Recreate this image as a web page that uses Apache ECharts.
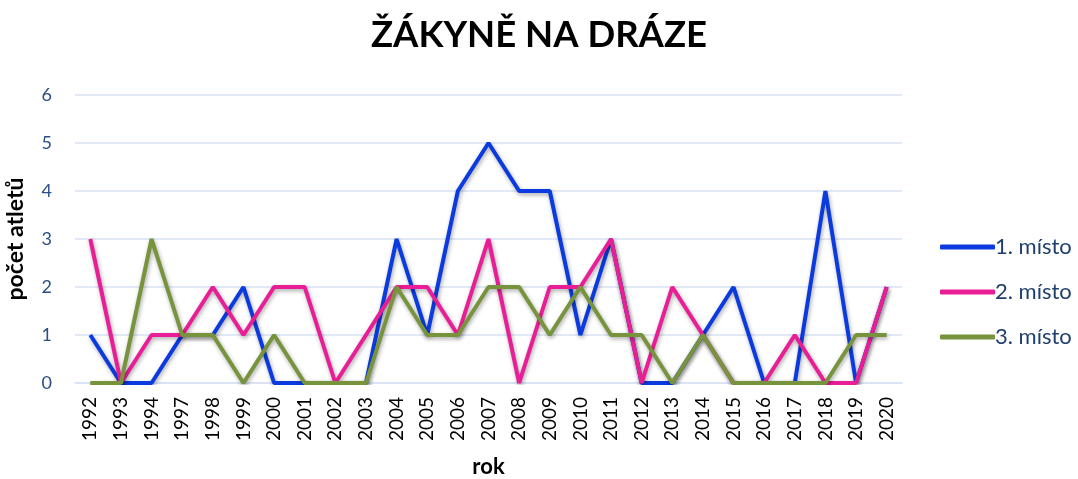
<!DOCTYPE html>
<html>
<head>
<meta charset="utf-8">
<script src="https://cdn.jsdelivr.net/npm/echarts@6/dist/echarts.min.js"></script>
<style>
html, body { margin: 0; padding: 0; background: #fff; }
#chart { width: 1078px; height: 479px; }
</style>
</head>
<body>
<div id="chart"></div>
<script>
const years = ['1992', '1993', '1994', '1997', '1998', '1999', '2000', '2001', '2002', '2003', '2004', '2005', '2006', '2007',
	'2008', '2009', '2010', '2011', '2012', '2013', '2014', '2015', '2016', '2017', '2018', '2019', '2020'];
const first = [1, 0, 0, 1, 1, 2, 0, 0, 0, 0, 3, 1, 4, 5, 4, 4, 1, 3, 0, 0, 1, 2, 0, 0, 4, 0, 2];
const second = [3, 0, 1, 1, 2, 1, 2, 2, 0, 1, 2, 2, 1, 3, 0, 2, 2, 3, 0, 2, 1, 0, 0, 1, 0, 0, 2];
const third = [0, 0, 3, 1, 1, 0, 1, 0, 0, 0, 2, 1, 1, 2, 2, 1, 2, 1, 1, 0, 1, 0, 0, 0, 0, 1, 1];
const seriesNames = ['1. místo', '2. místo', '3. místo'];
const colors = ['#0B3BE0', '#E91E96', '#77933C'];

const chart = echarts.init(document.getElementById('chart'), null, { renderer: 'canvas' });

// čára s jemným stínem jako v Excelu
const lineSeries = (name, data, color) => ({
	name,
	type: 'line',
	data,
	symbol: 'none',
	lineStyle: {
		color,
		width: 4,
		shadowColor: 'rgba(0,0,0,0.35)',
		shadowBlur: 4,
		shadowOffsetX: 1,
		shadowOffsetY: 2,
	},
	itemStyle: { color },
});

chart.setOption({
	backgroundColor: '#FFFFFF',
	textStyle: { fontFamily: 'Lato' },
	title: {
		text: 'ŽÁKYNĚ NA DRÁZE',
		left: 'center',
		top: 12,
		textStyle: { fontSize: 36.5, fontWeight: 'bold', color: '#000', fontFamily: 'Lato' },
	},
	grid: { left: 75, right: 176, top: 95, bottom: 96, outerBoundsMode: 'none' },
	legend: {
		orient: 'vertical',
		left: 940,
		top: 236,
		padding: 0,
		itemWidth: 55,
		itemHeight: 5,
		itemGap: 23,
		icon: 'roundRect',
		textStyle: { fontSize: 22, lineHeight: 22, color: '#1F3F6E', fontFamily: 'Lato', padding: [0, 0, 0, -5] },
		data: seriesNames,
	},
	xAxis: {
		type: 'category',
		data: years,
		boundaryGap: true,
		name: 'rok',
		nameLocation: 'middle',
		nameGap: 73,
		nameTextStyle: { fontSize: 22, fontWeight: 'bold', color: '#000' },
		axisLine: { lineStyle: { color: '#D9E2F3', width: 1.5 } },
		axisTick: { show: false },
		axisLabel: { rotate: 90, fontSize: 19, color: '#000', margin: 14, interval: 0 },
	},
	yAxis: {
		type: 'value',
		min: 0,
		max: 6,
		interval: 1,
		name: 'počet atletů',
		nameLocation: 'middle',
		nameGap: 48,
		nameTextStyle: { fontSize: 23, fontWeight: 'bold', color: '#000' },
		axisLine: { show: false },
		axisTick: { show: false },
		axisLabel: { fontSize: 18, color: '#2A4E86', margin: 23 },
		splitLine: { lineStyle: { color: '#D9E2F3', width: 1.5 } },
	},
	series: [
		lineSeries(seriesNames[0], first, colors[0]),
		lineSeries(seriesNames[1], second, colors[1]),
		lineSeries(seriesNames[2], third, colors[2]),
	],
});
</script>
</body>
</html>
